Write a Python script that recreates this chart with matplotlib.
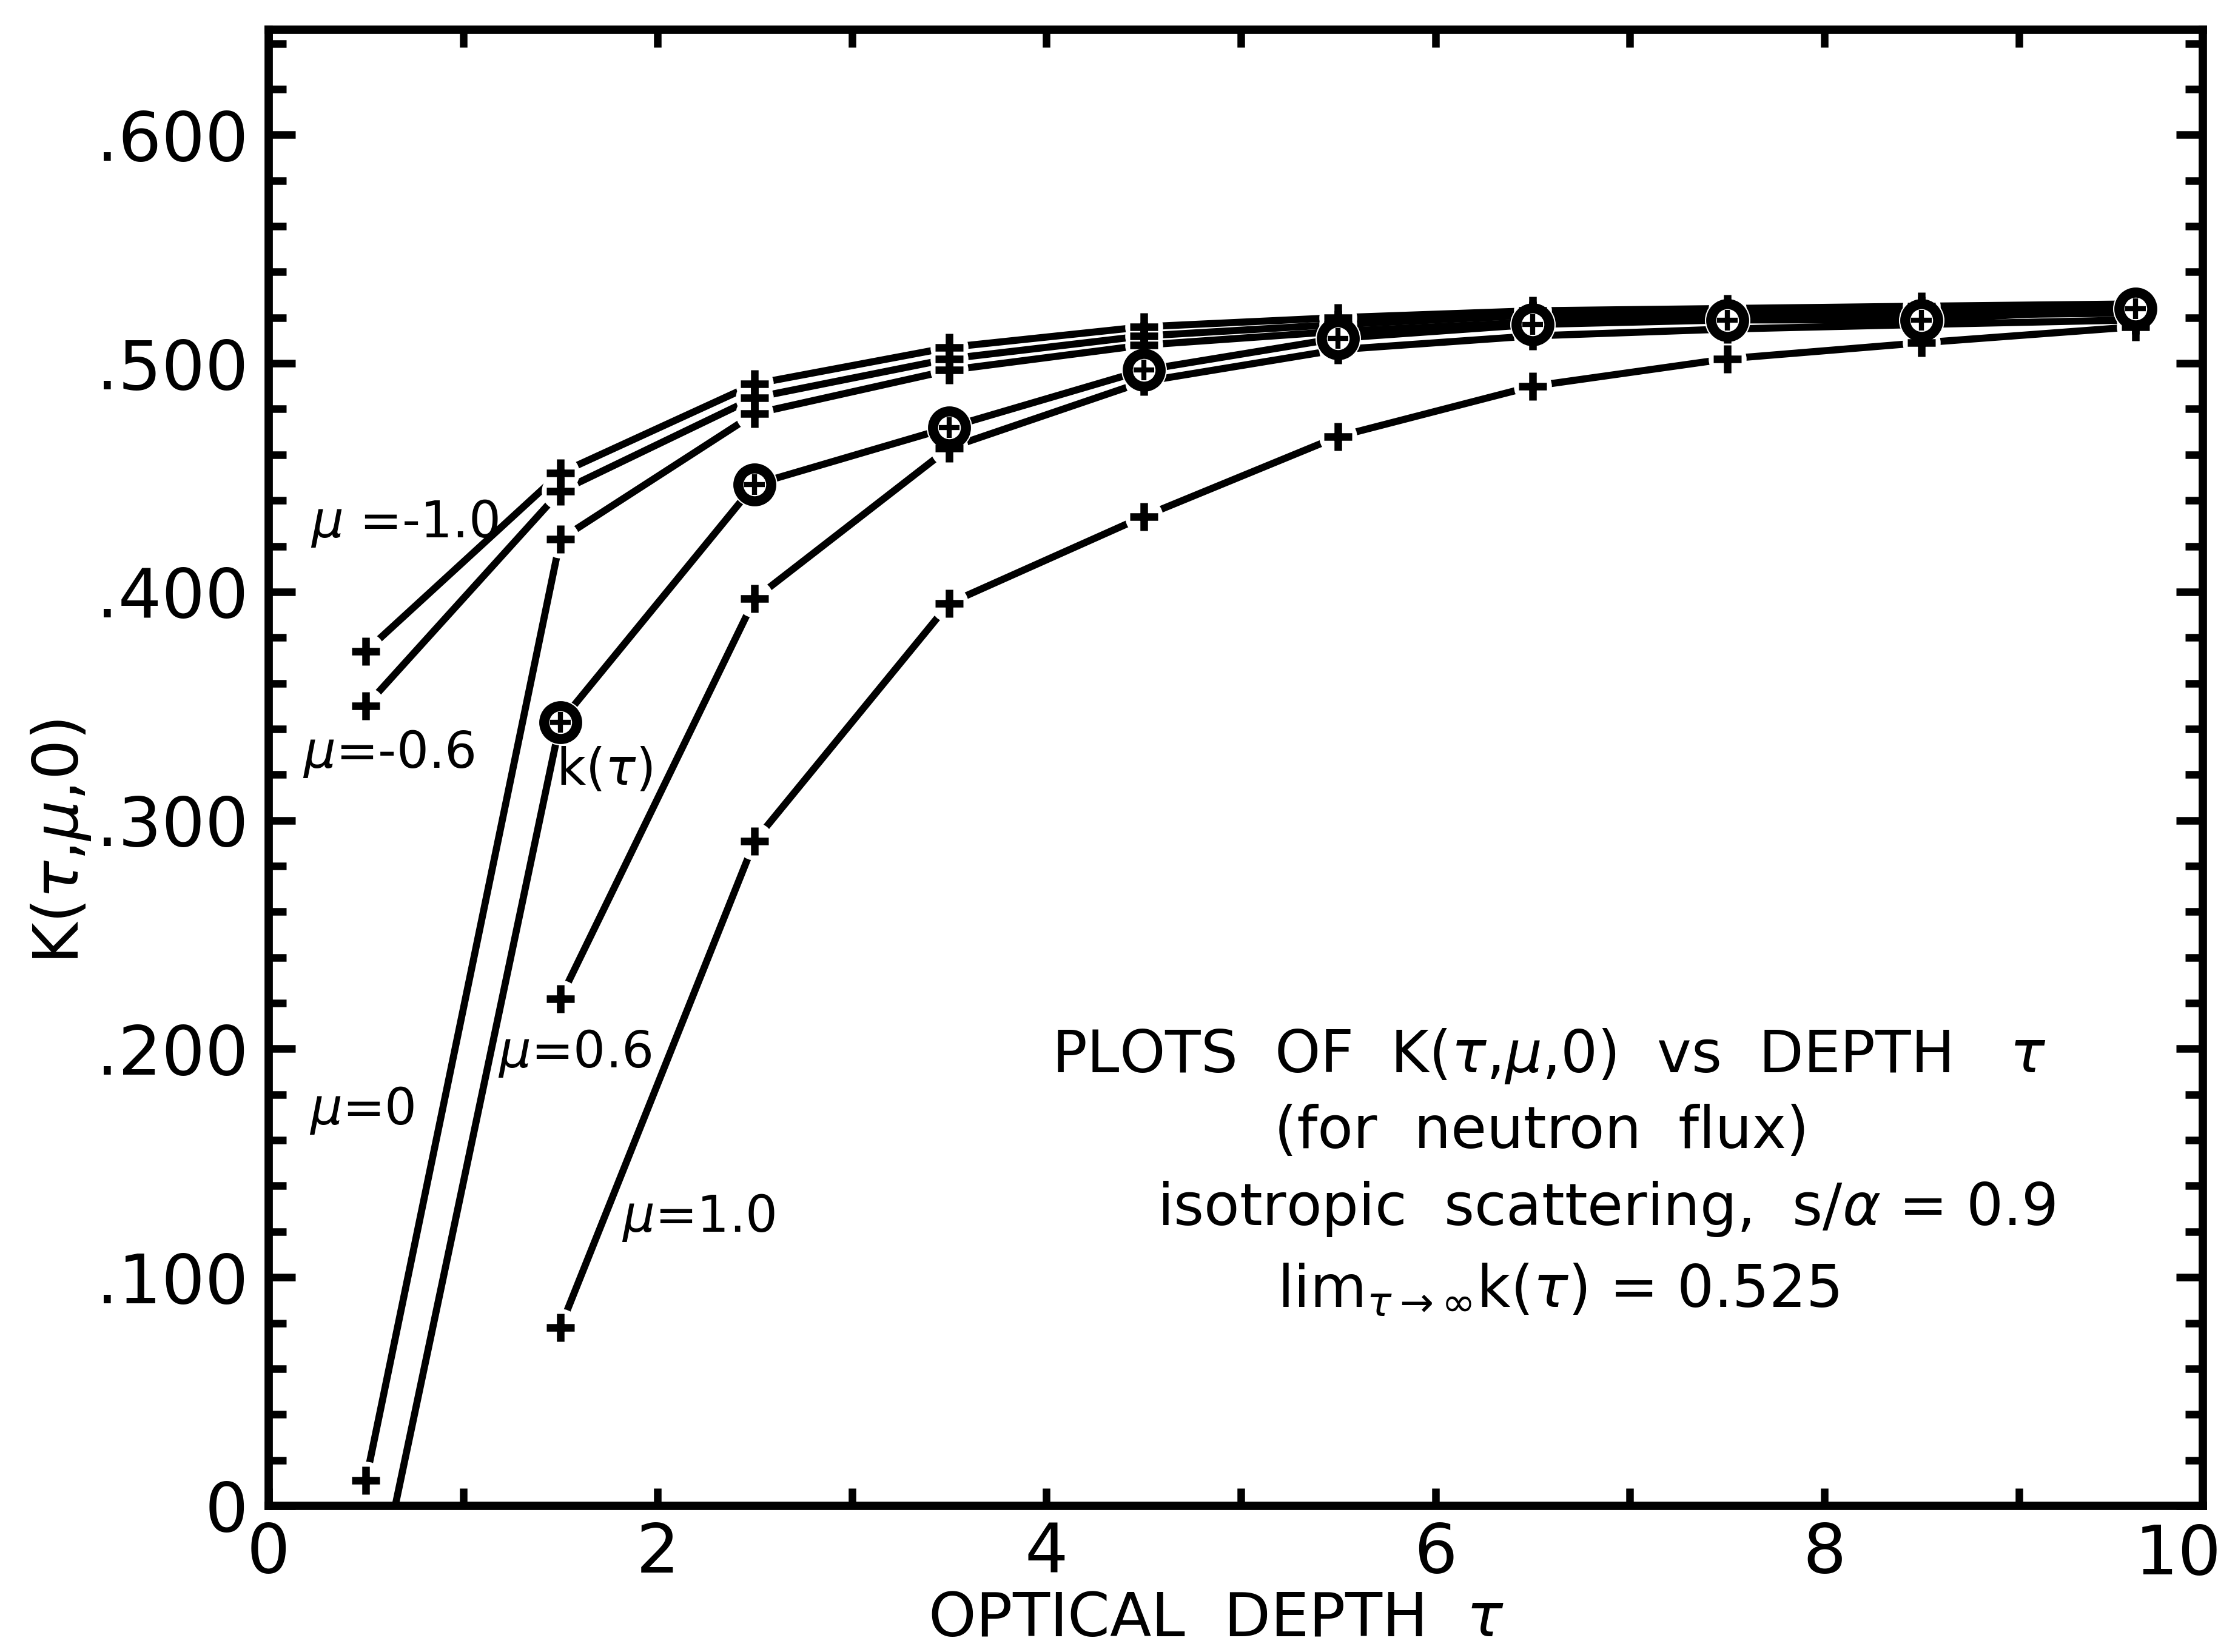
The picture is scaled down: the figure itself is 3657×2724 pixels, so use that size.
import numpy as np
import matplotlib.pyplot as plt
from matplotlib.ticker import FixedLocator, MultipleLocator

plt.rcParams['font.family'] = ['DejaVu Sans']
plt.rcParams['mathtext.fontset'] = 'dejavusans'

# optical depth of the plotted points
tau = [0.5, 1.5, 2.5, 3.5, 4.5, 5.5, 6.5, 7.5, 8.5, 9.6]

# K(tau, mu, 0)
mu_m10 = [0.374, 0.452, 0.491, 0.507, 0.516, 0.520, 0.523, 0.524, 0.525, 0.526]
mu_m06 = [0.350, 0.444, 0.485, 0.502, 0.512, 0.517, 0.521, 0.522, 0.523, 0.524]
mu_00 = [0.011, 0.423, 0.478, 0.497, 0.508, 0.514, 0.518, 0.520, 0.521, 0.522]
mu_06 = [np.nan, 0.222, 0.397, 0.463, 0.492, 0.506, 0.512, 0.515, 0.517, 0.519]
mu_10 = [np.nan, 0.078, 0.291, 0.395, 0.433, 0.468, 0.490, 0.502, 0.509, 0.516]
k_tau = [-0.061, 0.343, 0.447, 0.472, 0.497, 0.511, 0.517, 0.519, 0.519, 0.524]

xtick_vals = [0, 2, 4, 6, 8]
xtick_labels = ['0', '2', '4', '6', '8']
ytick_vals = [0.0, 0.1, 0.2, 0.3, 0.4, 0.5, 0.6]
ytick_labels = ['0', '.100', '.200', '.300', '.400', '.500', '.600']

plus_series = [mu_m10, mu_m06, mu_00, mu_06, mu_10]
all_series = plus_series + [k_tau]

fig = plt.figure(figsize=(3657 / 300, 2724 / 300), dpi=300)
ax = fig.add_axes([0.1211, 0.0885, 0.872, 0.8935])

# lines first, then white discs so lines stop short of markers, then markers
for vals in all_series:
    ax.plot(tau, vals, color='black', lw=2.8, solid_capstyle='round', zorder=2)
for vals in plus_series:
    ax.plot(tau, vals, ls='none', marker='o', ms=15, mfc='white', mec='none', zorder=3)
ax.plot(tau, k_tau, ls='none', marker='o', ms=18, mfc='white', mec='none', zorder=3)
for vals in plus_series:
    ax.plot(tau, vals, ls='none', marker='+', ms=11, mew=3, color='black', zorder=4)
ax.plot(tau, k_tau, ls='none', marker='o', ms=13, mfc='white', mec='black', mew=4, zorder=5)
ax.plot(tau, k_tau, ls='none', marker='+', ms=8, mew=2, color='black', zorder=6)

ax.set_xlim(0, 9.945)
ax.set_ylim(0, 0.646)

for sp in ax.spines.values():
    sp.set_linewidth(3.3)

ax.set_xticks(xtick_vals)
ax.set_xticklabels(xtick_labels, fontsize=27)
ax.xaxis.set_minor_locator(FixedLocator([1, 3, 5, 7, 9]))
ax.set_yticks(ytick_vals)
ax.set_yticklabels(ytick_labels, fontsize=27)
ax.yaxis.set_minor_locator(MultipleLocator(0.02))
ax.tick_params(axis='x', which='both', direction='in', top=True, length=7, width=3, pad=6)
ax.tick_params(axis='y', which='major', direction='in', right=True, length=10.5, width=3, pad=8)
ax.tick_params(axis='y', which='minor', direction='in', right=True, length=7, width=3)
ax.text(9.82, -0.0115, '10', transform=ax.get_xaxis_transform(), fontsize=27,
        ha='center', va='top')

ax.set_xlabel(r'OPTICAL  DEPTH  $\tau$', fontsize=24)
ax.xaxis.set_label_coords(0.49, -0.057)
ax.set_ylabel(r'K($\tau$,$\mu$,0)', fontsize=25)
ax.yaxis.set_label_coords(-0.091, 0.45)

# curve labels
lab = dict(fontsize=20, va='center', ha='left')
ax.text(0.215, 0.430, r'$\mu$ =-1.0', **lab)
ax.text(0.175, 0.329, r'$\mu$=-0.6', **lab)
ax.text(1.48, 0.322, r'k($\tau$)', **lab)
ax.text(0.21, 0.173, r'$\mu$=0', **lab)
ax.text(1.18, 0.198, r'$\mu$=0.6', **lab)
ax.text(1.815, 0.126, r'$\mu$=1.0', **lab)

# note block
note = dict(fontsize=23, ha='center', va='center')
ax.text(6.585, 0.1967, r'PLOTS  OF  K($\tau$,$\mu$,0)  vs  DEPTH   $\tau$', **note)
ax.text(6.545, 0.1635, '(for  neutron  flux)', **note)
ax.text(6.88, 0.130, r'isotropic  scattering,  s/$\alpha$ = 0.9', **note)
ax.text(6.63, 0.094, r'lim$_{\tau\rightarrow\infty}$k($\tau$) = 0.525', **note)

fig.savefig('out.png', dpi=300)
